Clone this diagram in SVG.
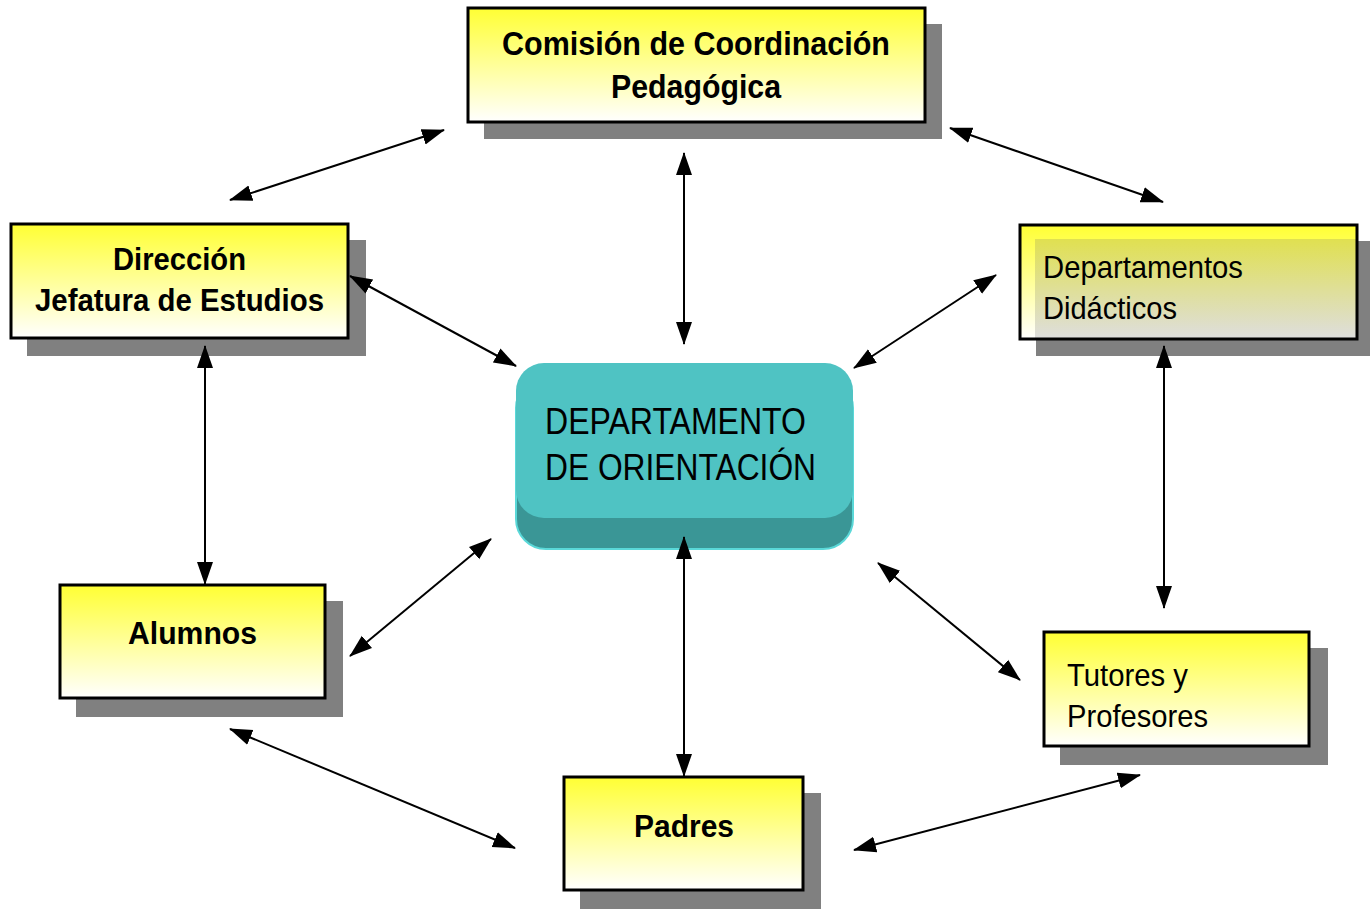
<svg xmlns="http://www.w3.org/2000/svg" width="1370" height="910" viewBox="0 0 1370 910">
<defs>
<linearGradient id="yg" x1="0" y1="0" x2="0" y2="1"><stop offset="0" stop-color="#ffff33"/><stop offset="1" stop-color="#ffffff"/></linearGradient>
<linearGradient id="gg" x1="0" y1="0" x2="0" y2="1"><stop offset="0" stop-color="#e0e050"/><stop offset="1" stop-color="#dedede"/></linearGradient>
<marker id="ah" markerUnits="userSpaceOnUse" markerWidth="24" markerHeight="18" refX="22" refY="9" orient="auto-start-reverse"><path d="M0,1 L23,9 L0,17 Z" fill="#000"/></marker>
<style>
.sh{fill:#808080}
.bx{fill:url(#yg);stroke:#000;stroke-width:3}
.t{font-family:"Liberation Sans",Arial,sans-serif;fill:#000}
.b{font-weight:bold}
.c{stroke:#000;stroke-width:2;fill:none;marker-start:url(#ah);marker-end:url(#ah)}
</style>
</defs>
<g id="comision">
<rect class="sh" x="484" y="24" width="458" height="115"/>
<rect class="bx" x="468" y="8" width="457" height="114"/>
<text class="t b" x="502" y="55" font-size="34" textLength="388" lengthAdjust="spacingAndGlyphs">Comisión de Coordinación</text>
<text class="t b" x="611" y="98" font-size="34" textLength="170" lengthAdjust="spacingAndGlyphs">Pedagógica</text>
</g>
<g id="direccion">
<rect class="sh" x="27" y="240" width="339" height="116"/>
<rect class="bx" x="11" y="224" width="337" height="114"/>
<text class="t b" x="113" y="270" font-size="32" textLength="133" lengthAdjust="spacingAndGlyphs">Dirección</text>
<text class="t b" x="35" y="311" font-size="32" textLength="289" lengthAdjust="spacingAndGlyphs">Jefatura de Estudios</text>
</g>
<g id="departamentos">
<rect class="sh" x="1036" y="241" width="334" height="115"/>
<rect x="1020" y="225" width="337" height="114" fill="url(#yg)"/>
<rect x="1035" y="239" width="322" height="100" fill="url(#gg)"/>
<rect x="1020" y="225" width="337" height="114" fill="none" stroke="#000" stroke-width="3"/>
<text class="t" x="1043" y="278" font-size="32" textLength="200" lengthAdjust="spacingAndGlyphs">Departamentos</text>
<text class="t" x="1043" y="319" font-size="32" textLength="134" lengthAdjust="spacingAndGlyphs">Didácticos</text>
</g>
<g id="orientacion">
<rect x="516" y="378" width="337" height="171" rx="30" fill="#3a9696"/>
<rect x="516" y="378" width="337" height="171" rx="30" fill="none" stroke="#5ad8d8" stroke-width="2"/>
<rect x="516" y="363" width="337" height="155" rx="28" fill="#4fc3c3"/>
<text class="t" x="545" y="434" font-size="36" textLength="261" lengthAdjust="spacingAndGlyphs">DEPARTAMENTO</text>
<text class="t" x="545" y="480" font-size="36" textLength="271" lengthAdjust="spacingAndGlyphs">DE ORIENTACIÓN</text>
</g>
<g id="alumnos">
<rect class="sh" x="76" y="601" width="267" height="116"/>
<rect class="bx" x="60" y="585" width="265" height="113"/>
<text class="t b" x="128" y="644" font-size="32" textLength="129" lengthAdjust="spacingAndGlyphs">Alumnos</text>
</g>
<g id="tutores">
<rect class="sh" x="1060" y="648" width="268" height="117"/>
<rect class="bx" x="1044" y="632" width="265" height="114"/>
<text class="t" x="1067" y="686" font-size="32" textLength="121" lengthAdjust="spacingAndGlyphs">Tutores y</text>
<text class="t" x="1067" y="727" font-size="32" textLength="141" lengthAdjust="spacingAndGlyphs">Profesores</text>
</g>
<g id="padres">
<rect class="sh" x="580" y="793" width="241" height="116"/>
<rect class="bx" x="564" y="777" width="239" height="113"/>
<text class="t b" x="634" y="837" font-size="32" textLength="100" lengthAdjust="spacingAndGlyphs">Padres</text>
</g>
<g id="connectors">
<line class="c" x1="230" y1="200" x2="444" y2="130"/>
<line class="c" x1="950" y1="128" x2="1163" y2="202"/>
<line class="c" x1="684" y1="153" x2="684" y2="344"/>
<line class="c" x1="350" y1="276" x2="516" y2="366"/>
<line class="c" x1="996" y1="275" x2="854" y2="368"/>
<line class="c" x1="205" y1="346" x2="205" y2="584"/>
<line class="c" x1="1164" y1="346" x2="1164" y2="608"/>
<line class="c" x1="350" y1="656" x2="491" y2="539"/>
<line class="c" x1="684" y1="537" x2="684" y2="776"/>
<line class="c" x1="878" y1="563" x2="1020" y2="680"/>
<line class="c" x1="230" y1="729" x2="515" y2="848"/>
<line class="c" x1="854" y1="850" x2="1140" y2="775"/>
</g>
</svg>
